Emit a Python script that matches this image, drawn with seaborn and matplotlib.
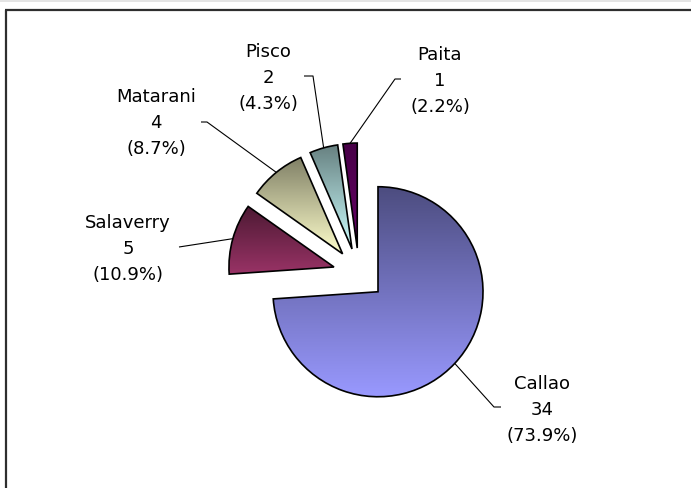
import numpy as np
import matplotlib
matplotlib.use("Agg")
import matplotlib.pyplot as plt
import matplotlib.colors as mcolors
import seaborn as sns

# ---- data ----
ports = ["Callao", "Salaverry", "Matarani", "Pisco", "Paita"]
counts = [34, 5, 4, 2, 1]
base_colors = ["#9999ff", "#993366", "#ffffcc", "#ccffff", "#660066"]

sns.set_theme(style="white")
plt.rcParams['font.family'] = ['DejaVu Sans']

W, H = 691, 489
fig = plt.figure(figsize=(W / 100, H / 100), dpi=100)
ax = fig.add_axes([0, 0, 1, 1])

palette = sns.color_palette(base_colors)

# layout (pixel coords, y measured from top)
cx, cy = 359, H - 275
R = 105
EXPL = 26

wedges, _ = ax.pie(counts, radius=R, center=(cx, cy), startangle=90,
                   counterclock=False, explode=[EXPL] * len(counts),
                   colors=palette, frame=True,
                   wedgeprops=dict(edgecolor='black', linewidth=1.2))

# gradient fills (dark at top -> full colour at bottom)
darken = [0.5, 0.5, 0.5, 0.5, 0.3]
for w, col, dk in zip(wedges, palette, darken):
    bb = w.get_path().get_extents()
    rgb = np.array(mcolors.to_rgb(col))
    t = np.linspace(0, 1, 256)[:, None]           # 0 bottom, 1 top
    grad = rgb[None, :] * (1 - dk * t)
    img = np.repeat(grad[:, None, :], 2, axis=1)
    im = ax.imshow(img, extent=[bb.x0, bb.x1, bb.y0, bb.y1], origin='lower',
                   aspect='auto', zorder=w.get_zorder() - 0.1, interpolation='bilinear')
    im.set_clip_path(w)
    w.set_facecolor('none')
    w.set_zorder(3)

# labels and leader lines
total = sum(counts)
label_pos = [(542, 410), (128, 249), (156, 123), (268, 78), (440, 81)]
elbows = [(494, 408), (179, 248), (207, 123), (313, 77), (395, 80)]
ends = [(501, 408), (179, 248), (201, 123), (304, 77), (401, 80)]

for w, name, n, lp, el, en in zip(wedges, ports, counts, label_pos, elbows, ends):
    th = np.deg2rad((w.theta1 + w.theta2) / 2)
    x0 = w.center[0] + R * np.cos(th)
    y0 = w.center[1] + R * np.sin(th)
    ax.plot([x0, el[0], en[0]], [y0, H - el[1], H - en[1]], color='black',
            lw=0.8, zorder=4, solid_capstyle='butt')
    ax.text(lp[0], H - lp[1], f"{name}\n{n}\n({n / total * 100:.1f}%)",
            ha='center', va='center', multialignment='center',
            fontsize=13, color='black', linespacing=1.57, zorder=5)

# frame
ax.add_patch(plt.Rectangle((0, H - 2.5), W, 2.5, color='#e4e4e4', lw=0, zorder=1))
ax.plot([5.5, W], [H - 10.5, H - 10.5], color='#2e2e2e', lw=1.6, zorder=6,
        solid_capstyle='butt')
ax.plot([6.3, 6.3], [0, H - 10.5], color='#2e2e2e', lw=1.6, zorder=6,
        solid_capstyle='butt')

ax.set_xlim(0, W)
ax.set_ylim(0, H)
ax.set_aspect('auto')
ax.axis('off')

fig.savefig("out.png", dpi=100, facecolor='white')
